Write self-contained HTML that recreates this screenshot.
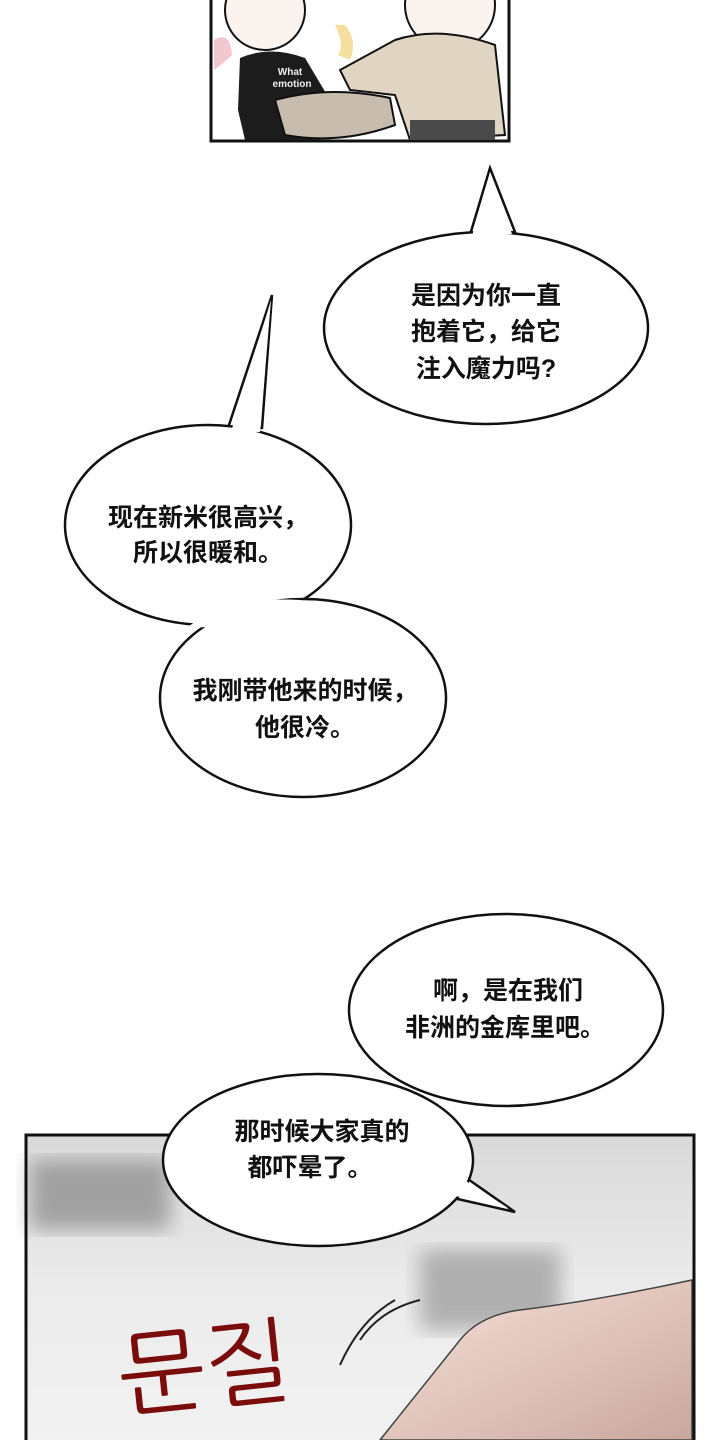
<!DOCTYPE html>
<html><head><meta charset="utf-8"><style>
html,body{margin:0;padding:0;background:#fff;}
svg{display:block}
text{font-family:"Liberation Sans","Noto Sans CJK SC",sans-serif;font-weight:bold;fill:#111;font-size:25px;text-anchor:middle}
</style></head><body>
<svg width="720" height="1440" viewBox="0 0 720 1440" xmlns="http://www.w3.org/2000/svg">
<defs>
<linearGradient id="bg2" x1="0" y1="0" x2="0" y2="1">
<stop offset="0" stop-color="#d9d9d9"/><stop offset="0.5" stop-color="#ebebeb"/><stop offset="1" stop-color="#f2f2f2"/>
</linearGradient>
<linearGradient id="skin" x1="0" y1="0" x2="1" y2="1">
<stop offset="0" stop-color="#f4e2da"/><stop offset="0.6" stop-color="#ddc0b6"/><stop offset="1" stop-color="#c9a79d"/>
</linearGradient>
<filter id="bl"><feGaussianBlur stdDeviation="10"/></filter>
</defs>
<rect x="211" y="-5" width="298" height="146" fill="#fff" stroke="#111" stroke-width="3"/>
<path d="M214 40 Q230 30 232 55 Q225 62 214 70Z" fill="#f3c7cf"/>
<path d="M335 25 Q345 45 338 55 L350 60 Q358 40 345 25Z" fill="#f5dfa0"/>
<circle cx="265" cy="10" r="40" fill="#faf3ee" stroke="#111" stroke-width="2"/>
<circle cx="450" cy="5" r="45" fill="#faf3ee" stroke="#111" stroke-width="2"/>
<path d="M240 58 Q270 45 305 58 L330 100 L320 140 L245 140 L238 110Z" fill="#1c1c1c"/>
<path d="M395 40 Q440 25 495 45 L505 135 L410 140 L395 95 L350 90 L340 70Z" fill="#e0d5c3" stroke="#111" stroke-width="2"/>
<path d="M275 100 Q330 85 390 98 L395 125 Q340 145 285 135Z" fill="#c8bcae" stroke="#111" stroke-width="2"/>
<rect x="410" y="120" width="85" height="20" fill="#4a4a4a"/>
<text x="290" y="75" style="font-size:10px;fill:#eee;font-weight:bold">What</text>
<text x="292" y="87" style="font-size:10px;fill:#eee;font-weight:bold">emotion</text>
<rect x="26" y="1135" width="668" height="310" fill="url(#bg2)"/>
<rect x="30" y="1160" width="140" height="70" fill="#777" opacity="0.6" filter="url(#bl)"/>
<rect x="420" y="1250" width="140" height="80" fill="#888" opacity="0.6" filter="url(#bl)"/>
<path d="M692 1280 Q600 1300 520 1310 Q480 1315 460 1340 L380 1440 L692 1440Z" fill="url(#skin)" stroke="#444" stroke-width="1.5"/>
<path d="M360 1340 Q380 1310 420 1300 M340 1365 Q360 1320 395 1300" stroke="#222" stroke-width="2" fill="none"/>
<text x="205" y="1400" style="font-family:'NanumGothic','Noto Sans CJK KR',sans-serif;font-size:92px;fill:#7a0c0c;font-weight:400" transform="rotate(-6 205 1370)">문질</text>
<rect x="26" y="1135" width="668" height="310" fill="none" stroke="#111" stroke-width="3"/>
<path d="M470 235 L490 168 L515 232 Z" fill="#fff" stroke="#111" stroke-width="2.5"/>
<ellipse cx="486" cy="328" rx="162" ry="96" fill="#fff" stroke="#111" stroke-width="2.5"/>
<path d="M472 236 L490 172 L512 234" fill="#fff" stroke="none"/>
<text x="486" y="304">是因为你一直</text>
<text x="486" y="340">抱着它，给它</text>
<text x="486" y="377">注入魔力吗?</text>
<path d="M228 428 L272 295 L262 428 Z" fill="#fff" stroke="#111" stroke-width="2.5"/>
<ellipse cx="208" cy="525" rx="143" ry="100" fill="#fff" stroke="#111" stroke-width="2.5"/>
<path d="M231 432 L271 300 L260 432Z" fill="#fff"/>
<ellipse cx="303" cy="698" rx="143" ry="99" fill="#fff" stroke="#111" stroke-width="2.5"/>
<path d="M186 628 Q230 596 300 600 Q330 604 320 622" fill="#fff" stroke="none"/>
<text x="208" y="526">现在新米很高兴，</text>
<text x="208" y="561">所以很暖和。</text>
<text x="305" y="699">我刚带他来的时候，</text>
<text x="305" y="736">他很冷。</text>
<ellipse cx="506" cy="1010" rx="157" ry="96" fill="#fff" stroke="#111" stroke-width="2.5"/>
<text x="508" y="999">啊，是在我们</text>
<text x="505" y="1036">非洲的金库里吧。</text>
<path d="M440 1195 L515 1212 L455 1170 Z" fill="#fff" stroke="#111" stroke-width="2.5"/>
<ellipse cx="318" cy="1160" rx="155" ry="86" fill="#fff" stroke="#111" stroke-width="2.5"/>
<path d="M438 1192 L508 1208 L452 1172Z" fill="#fff"/>
<text x="322" y="1140">那时候大家真的</text>
<text x="310" y="1176">都吓晕了。</text>
</svg>
</body></html>
